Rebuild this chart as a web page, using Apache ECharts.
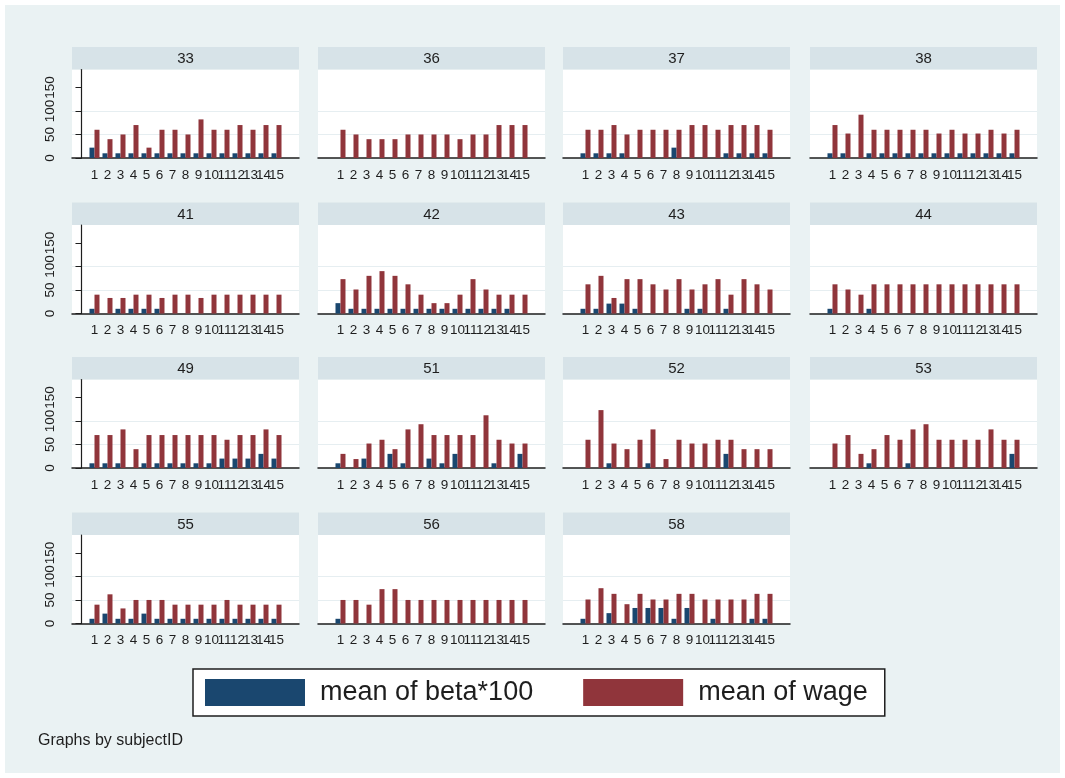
<!DOCTYPE html>
<html>
<head>
<meta charset="utf-8">
<title>mean of beta*100 and wage by subjectID</title>
<script src="https://cdn.jsdelivr.net/npm/echarts@6.0.0/dist/echarts.min.js"></script>
<style>
  html, body { margin: 0; padding: 0; background: #fff; }
  #chart { width: 1065px; height: 778px; }
</style>
</head>
<body>
<div id="chart"></div>
<script>
// periods shown on every panel
const periods = [1, 2, 3, 4, 5, 6, 7, 8, 9, 10, 11, 12, 13, 14, 15]
const yTicks = [0, 50, 100, 150]
const yGridLines = [50, 100]

// mean of beta*100 (null = no bar) and mean of wage, one pair per subject
const beta33 = [22, 10, 10, 10, 10, 10, 10, 10, 10, 10, 10, 10, 10, 10, 10]
const wage33 = [60, 40, 50, 70, 22, 60, 60, 50, 82, 60, 60, 70, 60, 70, 70]
const beta36 = [null, null, null, null, null, null, null, null, null, null, null, null, null, null, null]
const wage36 = [60, 50, 40, 40, 40, 50, 50, 50, 50, 40, 50, 50, 70, 70, 70]
const beta37 = [10, 10, 10, 10, null, null, null, 22, null, null, null, 10, 10, 10, 10]
const wage37 = [60, 60, 70, 50, 60, 60, 60, 60, 70, 70, 60, 70, 70, 70, 60]
const beta38 = [10, 10, null, 10, 10, 10, 10, 10, 10, 10, 10, 10, 10, 10, 10]
const wage38 = [70, 52, 92, 60, 60, 60, 60, 60, 52, 60, 52, 52, 60, 52, 60]
const beta41 = [10, null, 10, 10, 10, 10, null, null, null, null, null, null, null, null, null]
const wage41 = [40, 33, 33, 40, 40, 33, 40, 40, 33, 40, 40, 40, 40, 40, 40]
const beta42 = [22, 10, 10, 10, 10, 10, 10, 10, 10, 10, 10, 10, 10, 10, null]
const wage42 = [73, 51, 80, 90, 80, 62, 40, 22, 22, 40, 73, 51, 40, 40, 40]
const beta43 = [10, 10, 21, 21, 10, null, null, null, 10, 10, null, 10, null, null, null]
const wage43 = [62, 80, 33, 73, 73, 62, 51, 73, 51, 62, 73, 40, 73, 62, 51]
const beta44 = [10, null, null, 10, null, null, null, null, null, null, null, null, null, null, null]
const wage44 = [62, 51, 40, 62, 62, 62, 62, 62, 62, 62, 62, 62, 62, 62, 62]
const beta49 = [10, 10, 10, null, 10, 10, 10, 10, 10, 10, 20, 20, 20, 30, 20]
const wage49 = [70, 70, 82, 40, 70, 70, 70, 70, 70, 70, 60, 70, 70, 82, 70]
const beta51 = [10, null, 20, null, 30, 10, null, 20, 10, 30, null, null, 10, null, 30]
const wage51 = [30, 19, 52, 60, 40, 82, 93, 70, 70, 70, 70, 112, 60, 52, 52]
const beta52 = [null, null, 10, null, null, 10, null, null, null, null, null, 30, null, null, null]
const wage52 = [60, 123, 52, 40, 60, 82, 19, 60, 52, 52, 60, 60, 40, 40, 40]
const beta53 = [null, null, null, 10, null, null, 10, null, null, null, null, null, null, null, 30]
const wage53 = [52, 70, 30, 40, 70, 60, 82, 93, 60, 60, 60, 60, 82, 60, 60]
const beta55 = [10, 21, 10, 10, 21, 10, 10, 10, 10, 10, 10, 10, 10, 10, 10]
const wage55 = [40, 62, 32, 50, 50, 50, 40, 40, 40, 40, 50, 40, 40, 40, 40]
const beta56 = [10, null, null, null, null, null, null, null, null, null, null, null, null, null, null]
const wage56 = [50, 50, 40, 73, 73, 50, 50, 50, 50, 50, 50, 50, 50, 50, 50]
const beta58 = [10, null, 22, null, 33, 33, 33, 10, 33, null, 10, null, null, 10, 10]
const wage58 = [51, 75, 63, 41, 63, 51, 51, 63, 63, 51, 51, 51, 51, 63, 63]

const panels = [
  ['33', beta33, wage33], ['36', beta36, wage36], ['37', beta37, wage37], ['38', beta38, wage38],
  ['41', beta41, wage41], ['42', beta42, wage42], ['43', beta43, wage43], ['44', beta44, wage44],
  ['49', beta49, wage49], ['51', beta51, wage51], ['52', beta52, wage52], ['53', beta53, wage53],
  ['55', beta55, wage55], ['56', beta56, wage56], ['58', beta58, wage58],
]

const BLUE = '#1a476f', RED = '#90353b'
const BG = '#eaf2f3', STRIP = '#d7e3e8', GRIDLINE = '#e6eef1', INK = '#1e1e1e'
const SANS = '"Liberation Sans", Arial, sans-serif'

const colLeft = [72, 318, 563, 810]
const rowTop = [47, 202.5, 357, 512.5]
const panelW = 227, stripH = 22.5, plotH = 88.5
const Y_MAX = 188, X_MIN = -0.73, X_MAX = 16.73

// blank labels at the axis ends keep echarts from dropping the crowded 14 / 100
const xLabelValues = [X_MIN, ...periods, X_MAX]
const yLabelValues = [...yTicks, Y_MAX]
const xLabelFmt = v => (periods.includes(v) ? String(v) : '')
const yLabelFmt = v => (yTicks.includes(v) ? String(v) : '')

const grid = [], xAxis = [], yAxis = [], series = []
const graphic = [{
  type: 'rect', z: -100, silent: true,
  shape: { x: 5, y: 5, width: 1055, height: 768 },
  style: { fill: BG },
}]

const toPoints = arr => arr.map((v, k) => [periods[k], v == null ? '-' : v])

panels.forEach(([id, beta, wage], i) => {
  const c = i % 4, r = Math.floor(i / 4)
  const left = colLeft[c], top = rowTop[r]

  graphic.push({
    type: 'rect', silent: true,
    shape: { x: left, y: top, width: panelW, height: stripH },
    style: { fill: STRIP },
  })
  graphic.push({
    type: 'text', silent: true, x: left + panelW / 2, y: top + stripH / 2 + 1,
    style: { text: id, fill: INK, font: '15px ' + SANS, textAlign: 'center', textVerticalAlign: 'middle' },
  })

  grid.push({
    left, top: top + stripH, width: panelW, height: plotH,
    show: true, backgroundColor: '#fff', borderWidth: 0, outerBoundsMode: 'none',
  })

  xAxis.push({
    gridIndex: i, type: 'value', min: X_MIN, max: X_MAX,
    axisLine: { show: true, onZero: false, lineStyle: { color: INK, width: 1.5 } },
    axisTick: { show: false },
    splitLine: { show: false },
    axisLabel: {
      customValues: xLabelValues, formatter: xLabelFmt, hideOverlap: false,
      margin: 10, fontSize: 13.5, fontFamily: SANS, color: INK,
    },
  })

  // visible axis (first column only)
  yAxis.push({
    gridIndex: i, type: 'value', min: 0, max: Y_MAX, show: c === 0, position: 'left',
    axisLine: { show: true, lineStyle: { color: INK, width: 1.2 } },
    axisTick: { show: true, customValues: yTicks, length: 6, lineStyle: { color: INK } },
    axisLabel: {
      customValues: yLabelValues, formatter: yLabelFmt, hideOverlap: false,
      rotate: 90, margin: 15, fontSize: 13.5, fontFamily: SANS, color: INK,
    },
    splitLine: { show: false },
  })
  // faint gridlines
  yAxis.push({
    gridIndex: i, type: 'value', min: 0, max: Y_MAX, position: 'left',
    axisLine: { show: false },
    axisTick: { show: false, customValues: yGridLines },
    axisLabel: { show: false },
    splitLine: { show: true, lineStyle: { color: GRIDLINE, width: 1.2 } },
  })

  series.push({
    type: 'bar', name: 'mean of beta*100', xAxisIndex: i, yAxisIndex: 2 * i,
    data: toPoints(beta), barWidth: 5, barGap: '0%',
    itemStyle: { color: BLUE },
  })
  series.push({
    type: 'bar', name: 'mean of wage', xAxisIndex: i, yAxisIndex: 2 * i,
    data: toPoints(wage), barWidth: 5, barGap: '0%',
    itemStyle: { color: RED },
  })
})

const chart = echarts.init(document.getElementById('chart'), null, { renderer: 'canvas' })
chart.setOption({
  animation: false,
  backgroundColor: '#fff',
  textStyle: { fontFamily: SANS },
  title: {
    text: 'Graphs by subjectID', left: 38, top: 733, padding: 0,
    textStyle: { fontSize: 16, fontWeight: 'normal', color: INK, fontFamily: SANS },
  },
  legend: {
    left: 193, top: 669, orient: 'horizontal', selectedMode: false,
    data: ['mean of beta*100', 'mean of wage'],
    icon: 'rect', itemWidth: 100, itemHeight: 27, itemGap: 50,
    padding: [10, 17, 10, 12],
    backgroundColor: '#fff', borderColor: INK, borderWidth: 1.5, borderRadius: 0,
    textStyle: { fontSize: 27, color: INK, fontFamily: SANS, padding: [0, 0, 0, 10] },
  },
  grid, xAxis, yAxis, series, graphic,
})
</script>
</body>
</html>
